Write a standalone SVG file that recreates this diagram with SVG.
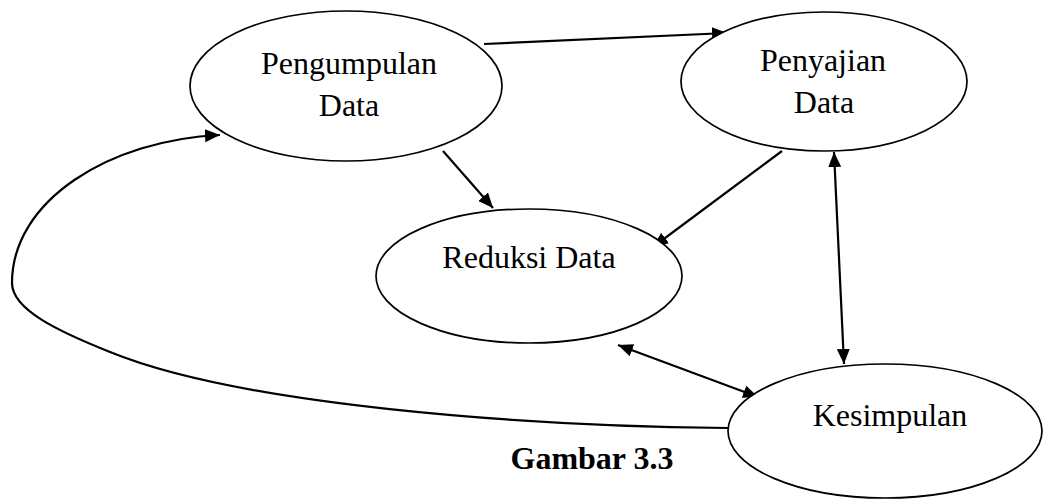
<svg xmlns="http://www.w3.org/2000/svg" width="1043" height="499" viewBox="0 0 1043 499">
<style>
.node ellipse{fill:#fff;stroke:#000;stroke-width:1.7}
.lbl{font-family:"Liberation Serif","Times New Roman",serif;font-size:32px;fill:#000;text-anchor:middle}
.cap{font-family:"Liberation Serif","Times New Roman",serif;font-size:32px;font-weight:bold;fill:#000;text-anchor:middle}
.conn{fill:none;stroke:#000;stroke-width:2.2}
</style>
<defs>
<marker id="ah" markerUnits="userSpaceOnUse" markerWidth="16" markerHeight="14" refX="15" refY="6.5" orient="auto-start-reverse" viewBox="0 0 16 14">
<path d="M0,0 L15,6.5 L0,13 z" fill="#000"/>
</marker>
</defs>
<rect width="1043" height="499" fill="#fff"/>
<g id="connectors">
<path class="conn" d="M484,44 L727,33" marker-end="url(#ah)"/>
<path class="conn" d="M443,151 L493,208" marker-end="url(#ah)"/>
<path class="conn" d="M782,151 L653,247" marker-end="url(#ah)"/>
<path class="conn" d="M834,152 L844,364" marker-start="url(#ah)" marker-end="url(#ah)"/>
<path class="conn" d="M618,345 L758,397" marker-start="url(#ah)" marker-end="url(#ah)"/>
<path class="conn" d="M728,428 C520,426 240,405 110,352 C60,332 12,310 12,283 C12,200 110,140 220,135" marker-end="url(#ah)"/>
</g>
<g id="pengumpulan" class="node">
<ellipse cx="346" cy="86" rx="156" ry="75"/>
<text class="lbl" x="349" y="74">Pengumpulan</text>
<text class="lbl" x="349" y="116">Data</text>
</g>
<g id="penyajian" class="node">
<ellipse cx="824" cy="81.5" rx="143" ry="69.5"/>
<text class="lbl" x="823" y="71">Penyajian</text>
<text class="lbl" x="824" y="113">Data</text>
</g>
<g id="reduksi" class="node">
<ellipse cx="529" cy="276" rx="153" ry="67"/>
<text class="lbl" x="529" y="268">Reduksi Data</text>
</g>
<g id="kesimpulan" class="node">
<ellipse cx="885" cy="431" rx="157" ry="67"/>
<text class="lbl" x="890" y="426">Kesimpulan</text>
</g>
<text class="cap" x="592" y="469">Gambar 3.3</text>
</svg>
